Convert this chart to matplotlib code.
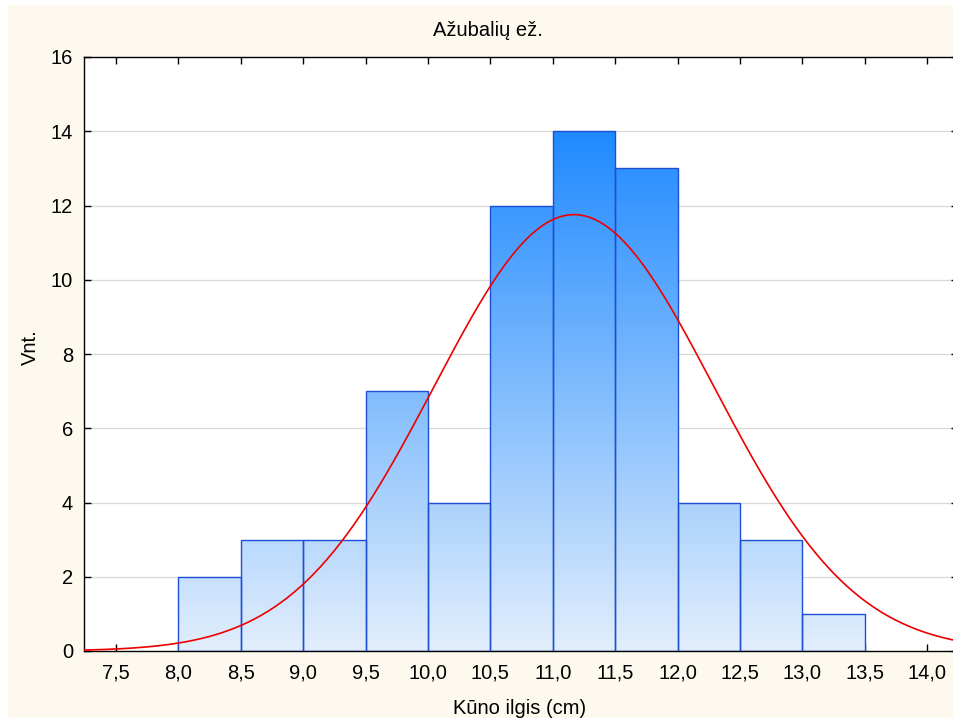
import matplotlib.pyplot as plt
import numpy as np
from matplotlib.colors import LinearSegmentedColormap
from matplotlib.patches import Rectangle

plt.rcParams['font.family'] = ['Liberation Sans', 'DejaVu Sans']

# histogram of body length, 0.5 cm bins
bin_edges = [8.0, 8.5, 9.0, 9.5, 10.0, 10.5, 11.0, 11.5, 12.0, 12.5, 13.0, 13.5]
counts = [2, 3, 3, 7, 4, 12, 14, 13, 4, 3, 1]

# fitted normal curve parameters
fit_mean = 11.17
fit_sd = 1.12

x_ticks = [7.5, 8.0, 8.5, 9.0, 9.5, 10.0, 10.5, 11.0, 11.5, 12.0, 12.5, 13.0, 13.5, 14.0]
y_ticks = [0, 2, 4, 6, 8, 10, 12, 14, 16]

W, H = 954, 723
XMIN, XMAX = 7.244, 14.247
fig = plt.figure(figsize=(W / 100, H / 100), dpi=100)
fig.patch.set_facecolor('white')

# cream panel behind everything
panel = Rectangle((8 / W, 5 / H), 1, 713 / H, transform=fig.transFigure,
                  facecolor='#fdf9ef', edgecolor='none', zorder=-10)
fig.add_artist(panel)

ax = fig.add_axes([84 / W, 1 - 651 / H, (958 - 84) / W, (651 - 57) / H])
ax.set_zorder(1)
ax.set_facecolor('white')

for y in y_ticks[1:-1]:
    ax.axhline(y, color='#d9d9d9', lw=0.9, zorder=1)

# vertical gradient shared by all bars
cmap = LinearSegmentedColormap.from_list('barfill', ['#e2eefc', '#1f8aff'])
grad = np.linspace(0, 1, 256).reshape(-1, 1)
for left, right, c in zip(bin_edges[:-1], bin_edges[1:], counts):
    img = ax.imshow(grad, cmap=cmap, aspect='auto', origin='lower',
                    extent=(XMIN, XMAX, 0, 14), zorder=2, interpolation='bicubic')
    bar = Rectangle((left, 0), right - left, c, facecolor='none',
                    edgecolor='#1d4fd4', lw=1.0, zorder=3)
    ax.add_patch(bar)
    img.set_clip_path(bar)

ax.set_xlim(XMIN, XMAX)
ax.set_ylim(0, 16)

xs = np.linspace(XMIN, XMAX, 400)
width = bin_edges[1] - bin_edges[0]
ys = sum(counts) * width * np.exp(-0.5 * ((xs - fit_mean) / fit_sd) ** 2) / (fit_sd * np.sqrt(2 * np.pi))
ax.plot(xs, ys, color='#ee0000', lw=1.2, zorder=4)

ax.set_xticks(x_ticks)
ax.set_xticklabels([f'{v:.1f}'.replace('.', ',') for v in x_ticks])
ax.set_yticks(y_ticks)
ax.tick_params(direction='in', length=5, width=1, labelsize=14.5, colors='black',
               top=True, right=True)
ax.tick_params(axis='x', pad=9)
ax.tick_params(axis='y', pad=8)
for s in ['left', 'bottom', 'top']:
    ax.spines[s].set_linewidth(1.0)
ax.spines['right'].set_visible(False)

fig.text(488 / W, 1 - 31 / H, 'Ažubalių ež.', ha='center', va='center', fontsize=14.5)
fig.text(520 / W, 1 - 708 / H, 'Kūno ilgis (cm)', ha='center', va='center', fontsize=14.5)
fig.text(30 / W, 1 - 347 / H, 'Vnt.', ha='center', va='center', fontsize=14.5, rotation=90)

fig.savefig('out.png', dpi=100)
